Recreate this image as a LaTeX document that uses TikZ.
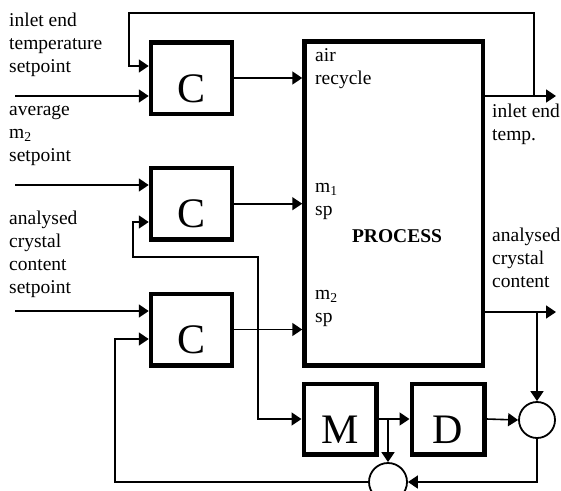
\documentclass[tikz,border=0pt]{standalone}
\usepackage{fontspec}
\setmainfont{Liberation Serif}
\usetikzlibrary{arrows.meta}
\begin{document}
\begin{tikzpicture}[x=1pt,y=-1pt,
  thin/.style={line width=1.6pt},
  arr/.style={thin,-{Triangle[length=10pt,width=13pt]}},
  darr/.style={thin,{Triangle[length=10pt,width=13pt]}-{Triangle[length=10pt,width=13pt]}},
  blk/.style={draw,line width=4.5pt,inner sep=0pt,minimum width=81pt,minimum height=71.5pt,
    font=\fontsize{42}{42}\selectfont,text height=48pt,text depth=0pt},
  sumc/.style={draw,circle,line width=1.8pt,inner sep=0pt,minimum size=36pt},
  lbl/.style={inner sep=0pt,anchor=base west,align=left,font=\fontsize{19.5}{23}\selectfont},
]
\clip (0,0) rectangle (561,490);
% blocks
\node[blk] (C1) at (191.5,78) {C};
\node[blk] (C2) at (191.5,203.7) {C};
\node[blk] (C3) at (191.5,329.5) {C};
\node[blk,minimum width=178.5pt,minimum height=323.8pt,text height=0pt,text depth=0pt] (P) at (393.75,203.6) {};
\node[blk,minimum width=72.5pt,minimum height=70.5pt] (M) at (340,419) {M};
\node[blk,minimum width=72.5pt,minimum height=70.5pt] (D) at (448,419) {D};
\node[sumc] (S1) at (537,420) {};
\node[sumc,minimum size=38pt] (S2) at (388,482) {};
% labels left (anchored at baseline of last line)
\node[lbl] (L1) at (9,72) {inlet end\\temperature\\setpoint};
\node[lbl] (L2) at (9,161) {average\\m\textsubscript{2}\\setpoint};
\node[lbl] (L3) at (9,293) {analysed\\crystal\\content\\setpoint};
% labels inside process
\node[lbl] (T1) at (315,84) {air\\recycle};
\node[lbl] (T2) at (315,215) {m\textsubscript{1}\\sp};
\node[lbl] (T3) at (315,322) {m\textsubscript{2}\\sp};
\node[lbl,anchor=base,font=\fontsize{19.5}{23}\selectfont\bfseries] (T4) at (397,242) {PROCESS};
% labels right
\node[lbl] (R1) at (492,140) {inlet end\\temp.};
\node[lbl] (R2) at (492,287) {analysed\\crystal\\content};
% coordinates
\coordinate (in1) at (15,96);
\coordinate (in2) at (15,185);
\coordinate (in3) at (15,311);
\coordinate (fb1) at (129,66);
\coordinate (j1) at (534,96);
\coordinate (out1) at (556,96);
\coordinate (out2) at (556,312);
\coordinate (j2) at (537,312);
\coordinate (c2b) at (133,222);
\coordinate (c3b) at (115,339);
\coordinate (j3) at (388,419);
% inputs
\draw[arr] (in1) -- (in1 -| C1.west);
\draw[arr] (in2) -- (in2 -| C2.west);
\draw[arr] (in3) -- (in3 -| C3.west);
% controller outputs
\draw[arr] (C1.east) -- (C1.east -| P.west);
\draw[arr] (C2.east) -- (C2.east -| P.west);
\draw[arr] (C3.east) -- (C3.east -| P.west);
% process outputs
\draw[arr] (out1 -| P.east) -- (out1);
\draw[arr] (out2 -| P.east) -- (out2);
% top feedback
\draw[arr] (j1) -- (534,13) -- (129,13) -- (fb1) -- (fb1 -| C1.west);
% C2 lower input / M input
\draw[darr] (c2b -| C2.west) -- (c2b) -- (133,257) -- (258,257) -- (258,419) -- (M.west);
% M, D, sums
\draw[arr] (M.east) -- (D.west);
\draw[arr] (j3) -- (S2.north);
\draw[arr] (D.east) -- (S1.west);
\draw[arr] (j2) -- (S1.north);
\draw[arr] (S1.south) |- (S2.east);
\draw[arr] (S2.west) -- (115,482) -- (c3b) -- (c3b -| C3.west);
\end{tikzpicture}
\end{document}
